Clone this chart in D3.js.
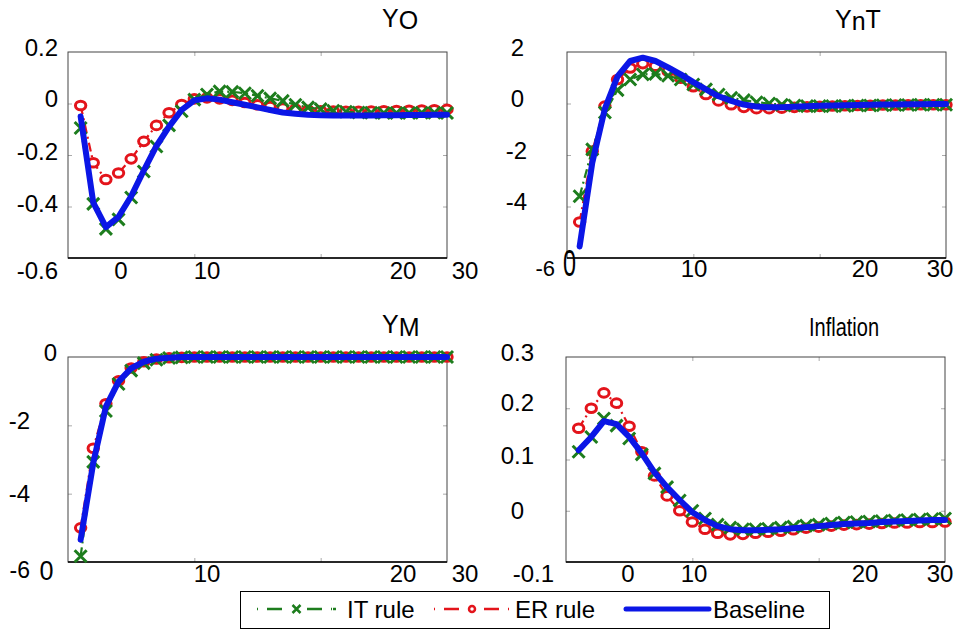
<!DOCTYPE html>
<html>
<head>
<meta charset="utf-8">
<script src="https://cdn.jsdelivr.net/npm/d3@7"></script>
<style>
  body { margin: 0; background: #fff; }
  svg { display: block; font-family: "Liberation Sans", Arial, sans-serif; }
  .box { fill: none; stroke: #444; stroke-width: 1; }
  .base { stroke: #000; stroke-width: 1.5; }
  .tk line { stroke: #aaa; }
  .tk path { display: none; }
</style>
</head>
<body>
<svg id="chart" width="954" height="631"></svg>
<script>
// periods of the impulse responses
const periods = [1,2,3,4,5,6,7,8,9,10,11,12,13,14,15,16,17,18,19,20,21,22,23,24,25,26,27,28,29,30];

const yoIT   = [-0.095,-0.39,-0.487,-0.45,-0.365,-0.264,-0.167,-0.085,-0.03,0.015,0.035,0.047,0.045,0.04,0.03,0.02,0.01,-0.005,-0.015,-0.022,-0.028,-0.032,-0.035,-0.036,-0.037,-0.037,-0.037,-0.036,-0.036,-0.037];
const yoER   = [-0.008,-0.23,-0.295,-0.27,-0.215,-0.147,-0.085,-0.036,-0.004,0.018,0.022,0.018,0.012,0.004,-0.005,-0.012,-0.018,-0.022,-0.026,-0.028,-0.029,-0.03,-0.03,-0.029,-0.028,-0.027,-0.026,-0.025,-0.024,-0.023];
const yoBase = [-0.05,-0.385,-0.48,-0.44,-0.36,-0.26,-0.165,-0.09,-0.025,0.012,0.02,0.015,0.005,-0.005,-0.015,-0.025,-0.035,-0.04,-0.044,-0.046,-0.047,-0.047,-0.047,-0.047,-0.046,-0.046,-0.045,-0.045,-0.044,-0.044];

const ynIT   = [-3.6,-1.78,-0.35,0.52,0.93,1.13,1.15,1.08,0.93,0.74,0.55,0.35,0.22,0.13,0.05,0,-0.05,-0.08,-0.1,-0.1,-0.1,-0.09,-0.08,-0.08,-0.07,-0.06,-0.06,-0.05,-0.05,-0.05];
const ynER   = [-4.6,-1.85,-0.1,0.93,1.38,1.55,1.45,1.25,0.98,0.65,0.35,0.1,-0.05,-0.15,-0.2,-0.2,-0.18,-0.15,-0.13,-0.11,-0.1,-0.09,-0.08,-0.07,-0.06,-0.06,-0.05,-0.05,-0.05,-0.05];
const ynBase = [-5.55,-2.3,-0.2,1.05,1.65,1.78,1.65,1.4,1.13,0.83,0.55,0.28,0.1,-0.04,-0.12,-0.15,-0.15,-0.13,-0.11,-0.09,-0.08,-0.07,-0.06,-0.05,-0.04,-0.04,-0.03,-0.03,-0.02,-0.02];

const ymIT   = [-5.83,-3.07,-1.58,-0.79,-0.4,-0.18,-0.08,-0.03,-0.01,0,0,0,0,0,0,0,0,0,0,0,0,0,0,0,0,0,0,0,0,0];
const ymER   = [-5.0,-2.67,-1.37,-0.7,-0.32,-0.14,-0.06,-0.02,-0.01,0,0,0,0,0,0,0,0,0,0,0,0,0,0,0,0,0,0,0,0,0];
const ymBase = [-5.35,-3.1,-1.45,-0.72,-0.33,-0.14,-0.05,-0.02,0,0,0,0,0,0,0,0,0,0,0,0,0,0,0,0,0,0,0,0,0,0];

const infIT   = [0.115,0.144,0.18,0.166,0.141,0.11,0.073,0.046,0.02,0,-0.015,-0.027,-0.033,-0.036,-0.036,-0.035,-0.033,-0.031,-0.029,-0.027,-0.025,-0.023,-0.022,-0.021,-0.02,-0.019,-0.018,-0.017,-0.016,-0.015];
const infER   = [0.161,0.2,0.23,0.21,0.165,0.115,0.068,0.029,0,-0.022,-0.036,-0.044,-0.047,-0.046,-0.044,-0.042,-0.04,-0.037,-0.034,-0.032,-0.03,-0.028,-0.027,-0.026,-0.025,-0.024,-0.024,-0.023,-0.023,-0.022];
const infBase = [0.118,0.144,0.175,0.169,0.144,0.112,0.075,0.046,0.021,-0.003,-0.018,-0.03,-0.036,-0.038,-0.038,-0.037,-0.036,-0.034,-0.032,-0.03,-0.028,-0.026,-0.025,-0.024,-0.022,-0.021,-0.02,-0.019,-0.018,-0.018];

const seriesNames = ['IT rule','ER rule','Baseline'];
const xTickLabels = ['0','10','20','30'];

const colors = { it: '#1d7d1d', er: '#e3141b', base: '#0b16e6' };

// the source figure has its tick labels scattered, so they are placed by hand
// [text, x, y, fontSize, anchor, squeezeToWidth]
const panels = [
  { title: [['Y',0],['O',2]], tx: 382, ty: 27, data: [yoIT, yoER, yoBase],
    box: [68,447,52,258], yDom: [-0.6,0.2], yTk: [-0.4,-0.2,0],
    yLab: [['0.2',58,47],['0',58,98],['-0.2',58,151],['-0.4',58,203],['-0.6',58,270]],
    xLab: [[121,270],[207,270],[403,270],[465,270]] },
  { title: [['Y',0],['n',2],['T',0]], tx: 835, ty: 28, data: [ynIT, ynER, ynBase],
    box: [567,946,52,258], yDom: [-6,2], yTk: [-4,-2,0],
    yLab: [['2',524,47],['0',524,98],['-2',527,150],['-4',527,201],['-6',555,268,22],['0',569.5,263,37,'middle',13]],
    xLab: [null,[694,268],[865,268],[940,268]] },
  { title: [['Y',0],['M',3]], tx: 382, ty: 333, data: [ymIT, ymER, ymBase],
    box: [68,447,357,562], yDom: [-6,0], yTk: [-4,-2],
    yLab: [['0',57,352],['-2',30,420],['-4',30,493],['-6',30,570,23],['0',46.5,570,28,'middle',14]],
    xLab: [null,[207,573],[403,573],[465,573]] },
  { title: [['Inflation',0]], tx: 809, ty: 336, fit: 70, data: [infIT, infER, infBase],
    box: [566,945,357,562], yDom: [-0.1,0.3], yTk: [0,0.1,0.2],
    yLab: [['0.3',534,352],['0.2',534,402],['0.1',534,455],['0',524,510],['-0.1',554,573]],
    xLab: [[628,573],[694,573],[865,573],[940,573]] }
];

const svg = d3.select('#chart');

function xMark(g, x, y, s, color, w) {
  g.append('path')
    .attr('d', `M${x-s},${y-s}L${x+s},${y+s}M${x-s},${y+s}L${x+s},${y-s}`)
    .attr('stroke', color).attr('stroke-width', w).attr('fill', 'none');
}

panels.forEach(p => {
  const [x0, x1, y0, y1] = p.box;
  const x = d3.scaleLinear().domain([0, 30]).range([x0, x1]);
  const y = d3.scaleLinear().domain(p.yDom).range([y1, y0]);
  const g = svg.append('g');

  // inward ticks on all four sides
  g.append('g').attr('class','tk').attr('transform',`translate(0,${y1})`)
    .call(d3.axisBottom(x).tickValues([10,20]).tickSize(-4).tickFormat(''));
  g.append('g').attr('class','tk').attr('transform',`translate(0,${y0})`)
    .call(d3.axisTop(x).tickValues([10,20]).tickSize(-4).tickFormat(''));
  g.append('g').attr('class','tk').attr('transform',`translate(${x0},0)`)
    .call(d3.axisLeft(y).tickValues(p.yTk).tickSize(-4).tickFormat(''));
  g.append('g').attr('class','tk').attr('transform',`translate(${x1},0)`)
    .call(d3.axisRight(y).tickValues(p.yTk).tickSize(-4).tickFormat(''));

  g.append('rect').attr('class','box')
    .attr('x', x0).attr('y', y0).attr('width', x1 - x0).attr('height', y1 - y0);
  g.append('line').attr('class','base')
    .attr('x1', x0).attr('x2', x1).attr('y1', y1).attr('y2', y1);

  const [itv, erv, bv] = p.data;
  const line = d3.line().x((d, i) => x(periods[i])).y(d => y(d));

  // ER rule
  g.append('path').datum(erv).attr('d', line)
    .attr('fill','none').attr('stroke', colors.er).attr('stroke-width', 2.2)
    .attr('stroke-dasharray','9,4,2,4');
  g.selectAll(null).data(erv).enter().append('ellipse')
    .attr('cx', (d, i) => x(periods[i])).attr('cy', d => y(d))
    .attr('rx', 5.2).attr('ry', 4.3)
    .attr('fill','#fff').attr('stroke', colors.er).attr('stroke-width', 3);

  // IT rule
  g.append('path').datum(itv).attr('d', line)
    .attr('fill','none').attr('stroke', colors.it).attr('stroke-width', 2.2)
    .attr('stroke-dasharray','9,4,2,4');
  itv.forEach((d, i) => xMark(g, x(periods[i]), y(d), 6, colors.it, 3));

  // Baseline
  g.append('path').datum(bv).attr('d', line)
    .attr('fill','none').attr('stroke', colors.base).attr('stroke-width', 6)
    .attr('stroke-linejoin','round').attr('stroke-linecap','round');

  // tick labels
  p.yLab.forEach(([t, lx, ly, fs, anc, fit]) => {
    const tx = g.append('text').attr('x', lx).attr('y', ly).attr('dy','0.36em')
      .attr('text-anchor', anc || 'end').attr('font-size', fs || 24).attr('fill','#000').text(t);
    if (fit) tx.attr('textLength', fit).attr('lengthAdjust','spacingAndGlyphs');
  });
  p.xLab.forEach((pos, i) => {
    if (!pos) return;
    g.append('text').attr('x', pos[0]).attr('y', pos[1]).attr('dy','0.36em')
      .attr('text-anchor','middle').attr('font-size', 24).attr('fill','#000').text(xTickLabels[i]);
  });

  // title
  const tt = g.append('text').attr('x', p.tx).attr('y', p.ty).attr('font-size', 25).attr('fill','#000');
  if (p.fit) tt.attr('textLength', p.fit).attr('lengthAdjust','spacingAndGlyphs');
  let prev = 0;
  p.title.forEach(([s, dy]) => {
    tt.append('tspan').attr('dy', dy - prev).text(s);
    prev = dy;
  });
});

// legend
const lg = svg.append('g');
lg.append('rect').attr('x', 240.5).attr('y', 591.5).attr('width', 589).attr('height', 37)
  .attr('fill','#fff').attr('stroke','#000').attr('stroke-width', 1);
const ly = 609;
const legendItems = [
  { name: seriesNames[0], c: colors.it, x1: 257, x2: 336, tx: 347, mk: 'x' },
  { name: seriesNames[1], c: colors.er, x1: 434, x2: 510, tx: 515, mk: 'o' },
  { name: seriesNames[2], c: colors.base, x1: 626, x2: 709, tx: 713, mk: null }
];
legendItems.forEach(it => {
  const l = lg.append('line').attr('x1', it.x1).attr('x2', it.x2).attr('y1', ly).attr('y2', ly)
    .attr('stroke', it.c);
  if (it.mk) {
    l.attr('stroke-width', 2.5).attr('stroke-dasharray','1,9,15,25,15,9,1');
  } else {
    l.attr('stroke-width', 5).attr('stroke-linecap','round');
  }
  const mx = (it.x1 + it.x2) / 2;
  if (it.mk === 'x') xMark(lg, mx, ly, 4, it.c, 2.5);
  if (it.mk === 'o') lg.append('circle').attr('cx', mx).attr('cy', ly).attr('r', 3)
    .attr('fill','#fff').attr('stroke', it.c).attr('stroke-width', 2.5);
  lg.append('text').attr('x', it.tx).attr('y', ly).attr('dy','0.36em')
    .attr('font-size', 24).attr('fill','#000').text(it.name);
});
</script>
</body>
</html>
